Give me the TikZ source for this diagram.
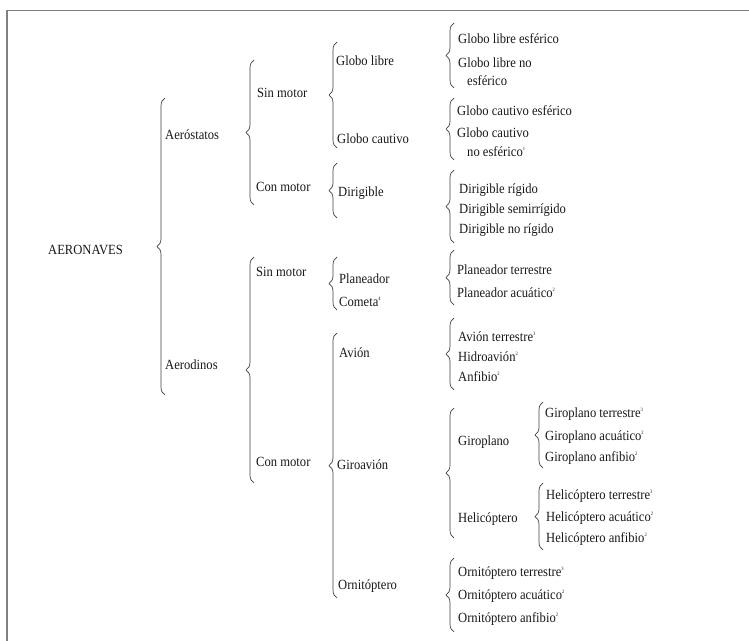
\documentclass[tikz,border=0pt]{standalone}
\usepackage{fontspec}
\setmainfont{Liberation Serif}[FakeStretch=0.9]
\usetikzlibrary{decorations.pathreplacing}
\newcommand{\fnote}[1]{\raisebox{0.8ex}{\fontsize{5}{5}\selectfont #1}}
\begin{document}
\begin{tikzpicture}[x=1pt,y=-1pt,
  lbl/.style={anchor=base west,inner sep=0pt,font=\fontsize{14}{16}\selectfont,text=black!90},
  brc/.style={decorate,decoration={brace,amplitude=8pt},draw=black!75,line width=0.7pt},
  framebox/.style={draw=black!50,line width=1.4pt}]
\useasboundingbox (0,0) rectangle (749,640);
\clip (0,0) rectangle (749,640);
\fill[white] (0,0) rectangle (749,640);
% frame (cropped at right and bottom)
\coordinate (fbl) at (7,660);
\coordinate (ftl) at (7,10.5);
\coordinate (ftr) at (770,10.5);
\draw[framebox] (fbl) -- (ftl) -- (ftr);

% level 0/1
\node[lbl] (aer) at (48,254) {AERONAVES};
\node[lbl] (aest) at (165,139) {Aeróstatos};
\node[lbl] (adin) at (165,369) {Aerodinos};
% level 2
\node[lbl] (sm1) at (257,97) {Sin motor};
\node[lbl] (cm1) at (256,191) {Con motor};
\node[lbl] (sm2) at (256,276) {Sin motor};
\node[lbl] (cm2) at (256,466) {Con motor};
% level 3
\node[lbl] (gl) at (336,65) {Globo libre};
\node[lbl] (gc) at (337,143) {Globo cautivo};
\node[lbl] (dir) at (338,196) {Dirigible};
\node[lbl] (plan) at (339,283) {Planeador};
\node[lbl] (com) at (339,306) {Cometa\fnote{4}};
\node[lbl] (avi) at (339,357) {Avión};
\node[lbl] (gir) at (337,469) {Giroavión};
\node[lbl] (orn) at (338,589) {Ornitóptero};
% level 4
\node[lbl] (gle) at (458,43) {Globo libre esférico};
\node[lbl] (glna) at (458,67) {Globo libre no};
\node[lbl] (glnb) at (467,85) {esférico};
\node[lbl] (gce) at (457,115) {Globo cautivo esférico};
\node[lbl] (gcna) at (457,137) {Globo cautivo};
\node[lbl] (gcnb) at (467,156) {no esférico\fnote{1}};
\node[lbl] (dr) at (459,193) {Dirigible rígido};
\node[lbl] (ds) at (459,213) {Dirigible semirrígido};
\node[lbl] (dn) at (459,233) {Dirigible no rígido};
\node[lbl] (pt) at (457,274) {Planeador terrestre};
\node[lbl] (pa) at (457,297) {Planeador acuático\fnote{2}};
\node[lbl] (at) at (458,341) {Avión terrestre\fnote{3}};
\node[lbl] (hid) at (458,361) {Hidroavión\fnote{2}};
\node[lbl] (anf) at (458,381) {Anfibio\fnote{2}};
\node[lbl] (gpl) at (458,445) {Giroplano};
\node[lbl] (hel) at (458,522) {Helicóptero};
\node[lbl] (ot) at (458,576) {Ornitóptero terrestre\fnote{3}};
\node[lbl] (oa) at (458,599) {Ornitóptero acuático\fnote{2}};
\node[lbl] (oan) at (458,622) {Ornitóptero anfibio\fnote{2}};
% level 5
\node[lbl] (gpt) at (545,417) {Giroplano terrestre\fnote{3}};
\node[lbl] (gpa) at (545,440) {Giroplano acuático\fnote{2}};
\node[lbl] (gpan) at (545,461) {Giroplano anfibio\fnote{2}};
\node[lbl] (ht) at (546,499) {Helicóptero terrestre\fnote{3}};
\node[lbl] (ha) at (546,521) {Helicóptero acuático\fnote{2}};
\node[lbl] (han) at (546,542) {Helicóptero anfibio\fnote{2}};

% brace end points
\coordinate (b1t) at (165,98);   \coordinate (b1b) at (165,395);
\coordinate (b2t) at (254,60);   \coordinate (b2b) at (254,205);
\coordinate (b3t) at (254,257);  \coordinate (b3b) at (254,483);
\coordinate (b4t) at (337,42);   \coordinate (b4b) at (337,148);
\coordinate (b5t) at (337,163);  \coordinate (b5b) at (337,218);
\coordinate (b6t) at (337,257);  \coordinate (b6b) at (337,310);
\coordinate (b7t) at (337,333);  \coordinate (b7b) at (337,598);
\coordinate (b8t) at (454,23);   \coordinate (b8b) at (454,88);
\coordinate (b9t) at (454,98);   \coordinate (b9b) at (454,160);
\coordinate (b10t) at (454,170); \coordinate (b10b) at (454,243);
\coordinate (b11t) at (454,250); \coordinate (b11b) at (454,305);
\coordinate (b12t) at (454,318); \coordinate (b12b) at (454,390);
\coordinate (b13t) at (454,408); \coordinate (b13b) at (454,538);
\coordinate (b14t) at (454,558); \coordinate (b14b) at (454,632);
\coordinate (b15t) at (543,402); \coordinate (b15b) at (543,468);
\coordinate (b16t) at (543,483); \coordinate (b16b) at (543,550);

\foreach \i in {1,...,16}{
  \draw[brc] (b\i b) -- (b\i t);
}
\end{tikzpicture}
\end{document}
